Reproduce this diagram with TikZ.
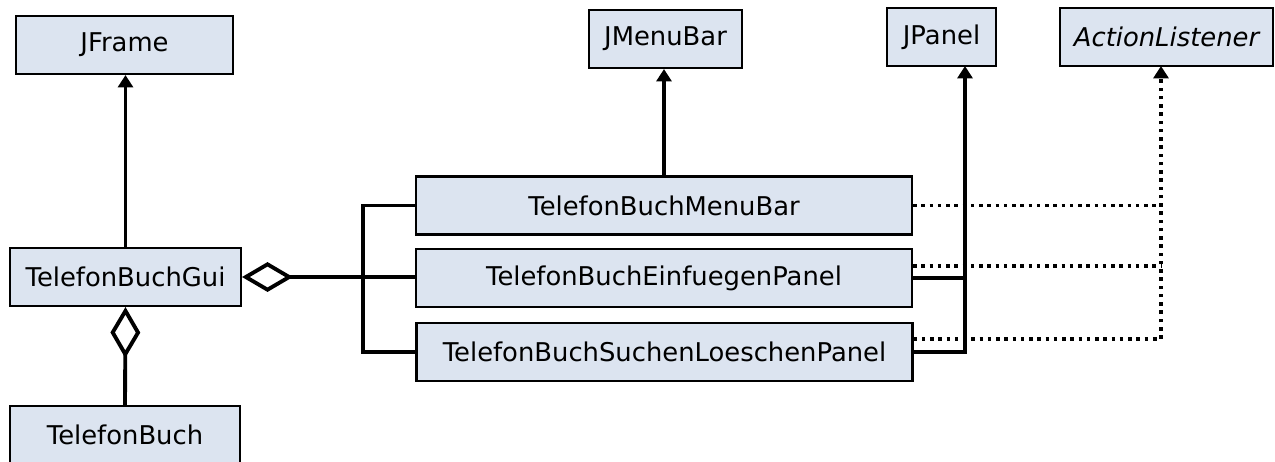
\documentclass[tikz,border=0pt]{standalone}
\usepackage{xcolor}
\usepackage{fontspec}
\setmainfont{DejaVu Sans}
\usepackage{tikz}
\usetikzlibrary{calc,arrows.meta}
\definecolor{klassenblau}{RGB}{220,228,240}
\begin{document}
\begin{tikzpicture}[x=0.02cm, y=-0.02cm, line width = 2.2pt]
	\newcommand{\hb}{1.16cm}
	\tikzstyle{klasse} =[draw, fill=klassenblau, line width=1.2pt, inner sep=0, minimum height=\hb, font=\fontsize{14.7}{17}\selectfont]
	\tikzstyle{erbt} =[-{Triangle[length=7pt,width=8.5pt]}]
	\tikzstyle{impl} =[line width=2pt, dash pattern=on 2pt off 2.7pt]
	\tikzstyle{agg} =[{Diamond[open,length=29pt,width=17pt]}-]
	\useasboundingbox (0,0) rectangle (1275,461);
	\node[klasse, minimum width=4.34cm] (JF) at (124.5,45) {JFrame};
	\node[klasse, minimum width=4.62cm] (TG) at (125.5,277) {TelefonBuchGui};
	\node[klasse, minimum width=4.6cm] (TB) at (125,435) {TelefonBuch};
	\node[klasse, minimum width=3.06cm] (JM) at (665.5,39) {JMenuBar};
	\node[klasse, minimum width=2.18cm] (JP) at (941.5,37) {JPanel};
	\node[klasse, minimum width=4.26cm] (AL) at (1166.5,37) {\itshape ActionListener};
	\node[klasse, minimum width=9.92cm] (MB) at (664,205.5) {TelefonBuchMenuBar};
	\node[klasse, minimum width=9.92cm] (EP) at (664,278) {TelefonBuchEinfuegenPanel};
	\node[klasse, minimum width=9.92cm] (SP) at (664.5,352) {TelefonBuchSuchenLoeschenPanel};
	\coordinate (K) at (363,0);
	\coordinate (P) at (965,66);
	\coordinate (L) at (1161,66);
	\draw[erbt] (TG.north) -- (TG.north |- JF.south);
	\draw[erbt] (MB.north) -- (MB.north |- JM.south);
	\draw[agg] (TG.south) -- (TB.north);
	\draw[agg] (TG.east) -- (TG.east -| EP.west);
	\draw (MB.west) -| (K |- SP.west) -- (SP.west);
	\draw[erbt] (SP.east) -| (P);
	\draw (EP.east) -- (EP.east -| P);
	\foreach \k/\d in {MB/0, EP/-12}
		{\draw[impl] ($(\k.east)+(0,\d)$) coordinate (D) -- (D -| L); }
	\draw[impl, erbt] ($(SP.east)+(0,-13)$) -| (L);
\end{tikzpicture}
\end{document}
